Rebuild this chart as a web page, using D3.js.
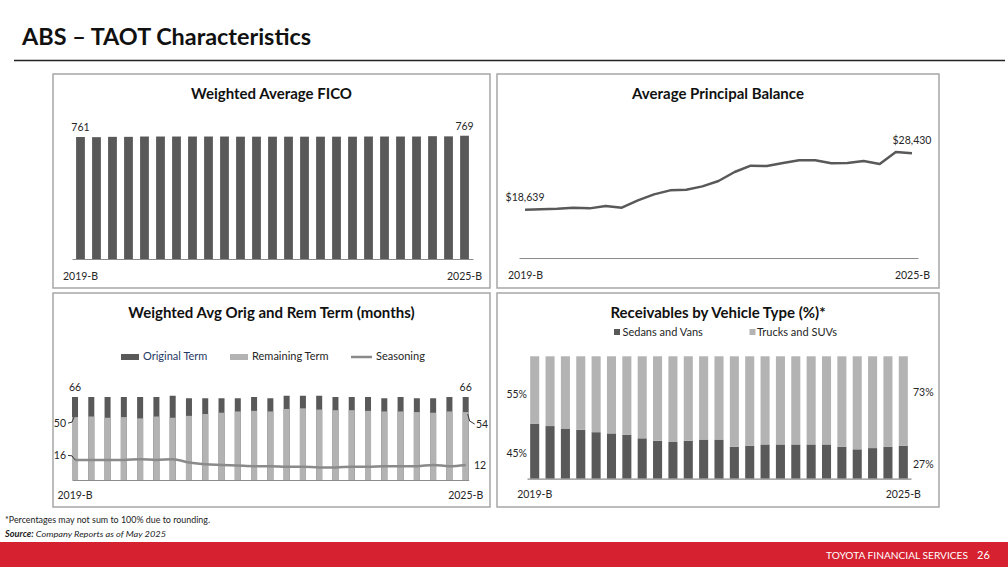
<!DOCTYPE html>
<html>
<head>
<meta charset="utf-8">
<script src="https://cdn.jsdelivr.net/npm/d3@7"></script>
<style>
  body { margin: 0; background: #fff; }
  svg { display: block; font-family: Lato, "Noto Sans", sans-serif; }
</style>
</head>
<body>
<div id="chart"></div>
<script>
// deals shown on every panel
const deals = ["2019-B","2019-C","2019-D","2020-A","2020-B","2020-C","2020-D","2021-A","2021-B","2021-C",
               "2021-D","2022-A","2022-B","2022-C","2022-D","2023-A","2023-B","2023-C","2023-D","2024-A",
               "2024-B","2024-C","2024-D","2025-A","2025-B"];
const endTicks = ["2019-B", "2025-B"];

const fico = [761,760,762,762,764,764,764,764,764,764,763,763,763,763,763,763,763,763,764,764,764,764,766,765,769];
const principal = [18639,18700,18810,18990,18870,19280,18990,20260,21300,22000,22110,22690,23620,25180,26280,
                   26220,26740,27210,27210,26690,26740,27090,26570,28660,28430];
const origTerm = [66,66,66,66,66,66,67,65,65,65,65,66,65,67,67,67,66,66,66,65,66,65,65,66,66];
const remTerm = [50,50.5,49.5,50,49,50.5,49.5,51,52.5,53.5,54.5,55,54.5,56.5,57,56,55.5,55.5,55,54.5,54.5,54,53.5,54.5,54];
const seasoning = [16,16,16,16,16.5,16,16.5,14,12.5,12,11.5,11,11,10.5,10.5,10,10,10.5,10.5,11,11,11,12,11,12];
const sedansVans = [45,43,41,40,38,37,36,33,31,30,31,32,32,26,27,28,28,28,28,28,26,24,25,26,27];
const trucksSuvs = [55,57,59,60,62,63,64,67,69,70,69,68,68,74,73,72,72,72,72,72,74,76,75,74,73];

const dark = "#595959", light = "#b3b3b3", txt = "#262626";

const svg = d3.select("#chart").append("svg")
    .attr("width", 1008)
    .attr("height", 567);

// page header
svg.append("text")
    .attr("x", 22).attr("y", 45)
    .attr("font-size", 22).attr("font-weight", 700).attr("fill", "#111")
    .attr("textLength", 289).attr("lengthAdjust", "spacingAndGlyphs")
    .text("ABS – TAOT Characteristics");
svg.append("line")
    .attr("x1", 14).attr("x2", 1005).attr("y1", 60.5).attr("y2", 60.5)
    .attr("stroke", "#222").attr("stroke-width", 1.3);

function panel(x, y, w, h, title) {
    svg.append("rect")
        .attr("x", x).attr("y", y).attr("width", w).attr("height", h)
        .attr("fill", "#fff").attr("stroke", "#a6a6a6").attr("stroke-width", 1.5);
    svg.append("text")
        .attr("x", x + w / 2).attr("y", y + 25)
        .attr("text-anchor", "middle")
        .attr("font-size", 15).attr("font-weight", 700).attr("fill", "#111")
        .text(title);
}

function bottomAxis(scale, y, pad) {
    let g = svg.append("g")
        .attr("transform", "translate(0," + y + ")")
        .call(d3.axisBottom(scale).tickValues(endTicks).tickSize(0).tickPadding(pad));
    g.select(".domain").attr("stroke", "#8c8c8c").attr("stroke-width", 1.2);
    g.selectAll("text").attr("font-family", "Lato").attr("font-size", 10.5).attr("fill", txt);
    return g;
}

function label(x, y, t, anchor) {
    svg.append("text")
        .attr("x", x).attr("y", y)
        .attr("text-anchor", anchor || "middle")
        .attr("font-size", 10.5).attr("fill", txt)
        .text(t);
}

panel(53, 74, 437, 214, "Weighted Average FICO");
panel(497, 74, 442, 214, "Average Principal Balance");
panel(53, 293, 437, 214, "Weighted Avg Orig and Rem Term (months)");
panel(497, 293, 442, 214, "Receivables by Vehicle Type (%)*");

// ---- Weighted Average FICO
let xFico = d3.scaleBand().domain(deals).range([72, 473]).paddingInner(0.45).paddingOuter(0.255);
let yFico = d3.scaleLinear().domain([0, 761]).range([259, 137]);

svg.append("g").selectAll("rect")
    .data(fico)
    .join("rect")
    .attr("x", (d, i) => xFico(deals[i]))
    .attr("y", d => yFico(d))
    .attr("width", xFico.bandwidth())
    .attr("height", d => yFico(0) - yFico(d))
    .attr("fill", dark);
bottomAxis(xFico, 259, 14);
label(xFico(deals[0]) + xFico.bandwidth() / 2, yFico(fico[0]) - 6, String(fico[0]));
label(xFico(deals[24]) + xFico.bandwidth() / 2, yFico(fico[24]) - 6, String(fico[24]));

// ---- Average Principal Balance
let xBal = d3.scalePoint().domain(deals).range([519, 918]).padding(0.375);
let yBal = d3.scaleLinear().domain([18639, 28430]).range([209.7, 153.3]);

svg.append("path")
    .datum(principal)
    .attr("fill", "none")
    .attr("stroke", dark)
    .attr("stroke-width", 2.5)
    .attr("stroke-linejoin", "round")
    .attr("d", d3.line().x((d, i) => xBal(deals[i])).y(d => yBal(d)));
bottomAxis(xBal, 258, 14);
const fmt = d3.format("$,");
label(xBal(deals[0]), yBal(principal[0]) - 9, fmt(principal[0]));
label(xBal(deals[24]), yBal(principal[24]) - 9, fmt(principal[24]));

// ---- Weighted Avg Orig and Rem Term
let xTerm = d3.scaleBand().domain(deals).range([72, 468.7]).paddingInner(0.63).paddingOuter(0);
let yTerm = d3.scaleLinear().domain([0, 66]).range([480, 397]);
const cx = d => xTerm(d) + xTerm.bandwidth() / 2;

svg.append("g").selectAll("rect")
    .data(origTerm)
    .join("rect")
    .attr("x", (d, i) => xTerm(deals[i]))
    .attr("y", d => yTerm(d))
    .attr("width", xTerm.bandwidth())
    .attr("height", d => yTerm(0) - yTerm(d))
    .attr("fill", dark);
svg.append("g").selectAll("rect")
    .data(remTerm)
    .join("rect")
    .attr("x", (d, i) => xTerm(deals[i]))
    .attr("y", d => yTerm(d))
    .attr("width", xTerm.bandwidth())
    .attr("height", d => yTerm(0) - yTerm(d))
    .attr("fill", light);
svg.append("path")
    .datum(seasoning)
    .attr("fill", "none")
    .attr("stroke", "#8a8a8a")
    .attr("stroke-width", 2.5)
    .attr("d", d3.line().x((d, i) => cx(deals[i])).y(d => yTerm(d)).curve(d3.curveMonotoneX));
bottomAxis(xTerm, 480, 12);

// legend
svg.append("rect").attr("x", 121).attr("y", 354).attr("width", 18).attr("height", 6).attr("fill", dark);
svg.append("text").attr("x", 143).attr("y", 360).attr("font-size", 11).attr("fill", "#1f3864").text("Original Term");
svg.append("rect").attr("x", 230).attr("y", 354).attr("width", 18).attr("height", 6).attr("fill", light);
svg.append("text").attr("x", 252).attr("y", 360).attr("font-size", 11).attr("fill", txt).text("Remaining Term");
svg.append("line").attr("x1", 351).attr("x2", 372).attr("y1", 357).attr("y2", 357)
    .attr("stroke", "#8a8a8a").attr("stroke-width", 2.5);
svg.append("text").attr("x", 376).attr("y", 360).attr("font-size", 11).attr("fill", txt).text("Seasoning");

// data labels with leader hooks
let first = deals[0], last = deals[24];
label(cx(first), yTerm(origTerm[0]) - 6, String(origTerm[0]));
label(cx(last), yTerm(origTerm[24]) - 6, String(origTerm[24]));
label(66, yTerm(remTerm[0]) + 10, String(remTerm[0]), "end");
svg.append("path")
    .attr("d", `M68,${yTerm(remTerm[0]) + 6}L72,${yTerm(remTerm[0]) + 5}L${cx(first) - 1},${yTerm(remTerm[0])}`)
    .attr("fill", "none").attr("stroke", "#333").attr("stroke-width", 1);
label(66, yTerm(seasoning[0]) - 1, String(seasoning[0]), "end");
svg.append("path")
    .attr("d", `M68,${yTerm(seasoning[0]) - 4.5}L72,${yTerm(seasoning[0]) - 4}L${cx(first)},${yTerm(seasoning[0])}`)
    .attr("fill", "none").attr("stroke", "#333").attr("stroke-width", 1);
label(476, yTerm(remTerm[24]) + 16, String(remTerm[24]), "start");
svg.append("path")
    .attr("d", `M${cx(last) + 2},${yTerm(remTerm[24]) + 2}L${cx(last) + 4},${yTerm(remTerm[24]) + 9}L${cx(last) + 9},${yTerm(remTerm[24]) + 12}`)
    .attr("fill", "none").attr("stroke", "#333").attr("stroke-width", 1);
label(474, yTerm(seasoning[24]) + 4, String(seasoning[24]), "start");

// ---- Receivables by Vehicle Type
let xVeh = d3.scaleBand().domain(deals).range([527, 911]).paddingInner(0.41).paddingOuter(0.206);
let yVeh = d3.scaleLinear().domain([0, 100]).range([478.7, 356.3]);

const stackRows = deals.map((d, i) => ({deal: d, sedans: sedansVans[i], trucks: trucksSuvs[i]}));
const stacked = d3.stack().keys(["sedans", "trucks"])(stackRows);
const vehColor = {sedans: dark, trucks: light};

svg.append("g").selectAll("g")
    .data(stacked)
    .join("g")
    .attr("fill", s => vehColor[s.key])
    .selectAll("rect")
    .data(s => s)
    .join("rect")
    .attr("x", d => xVeh(d.data.deal))
    .attr("y", d => yVeh(d[1]))
    .attr("width", xVeh.bandwidth())
    .attr("height", d => yVeh(d[0]) - yVeh(d[1]));
bottomAxis(xVeh, 478.7, 12);

svg.append("rect").attr("x", 614).attr("y", 329).attr("width", 6).attr("height", 6).attr("fill", dark);
svg.append("text").attr("x", 622.5).attr("y", 335.5).attr("font-size", 11).attr("fill", txt).text("Sedans and Vans");
svg.append("rect").attr("x", 749.5).attr("y", 329).attr("width", 6).attr("height", 6).attr("fill", light);
svg.append("text").attr("x", 757).attr("y", 335.5).attr("font-size", 11).attr("fill", txt).text("Trucks and SUVs");

label(527, 398, trucksSuvs[0] + "%", "end");
label(527, 457, sedansVans[0] + "%", "end");
label(913, 395.5, trucksSuvs[24] + "%", "start");
label(913, 467.5, sedansVans[24] + "%", "start");

// ---- footnotes and footer
svg.append("text").attr("x", 5).attr("y", 523).attr("font-size", 8.5).attr("fill", "#222")
    .attr("textLength", 205).attr("lengthAdjust", "spacingAndGlyphs")
    .text("*Percentages may not sum to 100% due to rounding.");
let src = svg.append("text").attr("x", 5).attr("y", 536.5).attr("font-size", 8.5).attr("fill", "#222")
    .attr("font-style", "italic").attr("textLength", 161).attr("lengthAdjust", "spacingAndGlyphs");
src.append("tspan").attr("font-weight", 700).text("Source:");
src.append("tspan").text(" Company Reports as of May 2025");

svg.append("rect").attr("x", 0).attr("y", 542).attr("width", 1008).attr("height", 25).attr("fill", "#d52130");
svg.append("text").attr("x", 826).attr("y", 558.5).attr("font-size", 10).attr("fill", "#fff")
    .attr("textLength", 142).attr("lengthAdjust", "spacingAndGlyphs")
    .text("TOYOTA FINANCIAL SERVICES");
svg.append("text").attr("x", 977).attr("y", 558.5).attr("font-size", 11).attr("fill", "#fff").text("26");
</script>
</body>
</html>
